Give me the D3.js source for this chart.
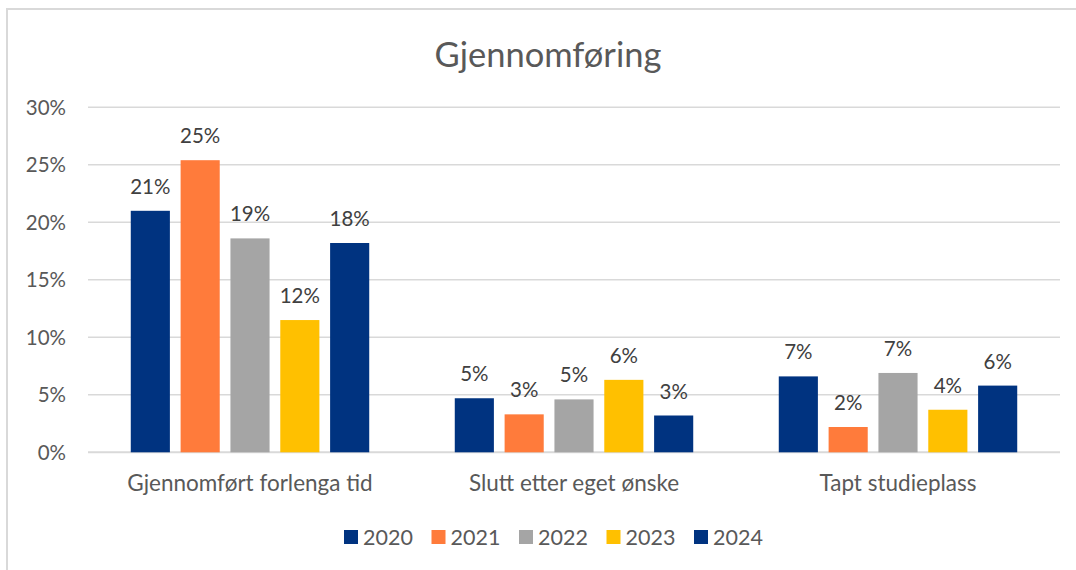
<!DOCTYPE html>
<html>
<head>
<meta charset="utf-8">
<script src="https://cdn.jsdelivr.net/npm/d3@7"></script>
<style>
  body { margin: 0; background: #fff; }
  svg text { font-family: Lato, "Open Sans", sans-serif; }
</style>
</head>
<body>
<svg id="chart" width="1076" height="570"></svg>
<script>
// data
var categories = ["Gjennomført forlenga tid", "Slutt etter eget ønske", "Tapt studieplass"];
var years = ["2020", "2021", "2022", "2023", "2024"];
var v2020 = [0.210, 0.047, 0.066];
var v2021 = [0.254, 0.033, 0.022];
var v2022 = [0.186, 0.046, 0.069];
var v2023 = [0.115, 0.063, 0.037];
var v2024 = [0.182, 0.032, 0.058];
var yTicks = [0, 0.05, 0.10, 0.15, 0.20, 0.25, 0.30];
var colors = ["#003380", "#FF7B3B", "#A5A5A5", "#FFC000", "#003380"];

var series = [v2020, v2021, v2022, v2023, v2024];

var svg = d3.select("#chart");

// ramme
svg.append("rect")
    .attr("x", 7).attr("y", 9)
    .attr("width", 1100).attr("height", 600)
    .attr("fill", "none")
    .attr("stroke", "#d9d9d9")
    .attr("stroke-width", 2);

// tittel
svg.append("text")
    .attr("x", 548).attr("y", 67)
    .attr("text-anchor", "middle")
    .attr("fill", "#595959")
    .style("font-size", "34.5px")
    .text("Gjennomføring");

// skalaer
var y = d3.scaleLinear().domain([0, 0.30]).range([452.3, 107.3]);
var x0 = d3.scaleBand().domain(categories).range([88, 1060]).padding(0);
var gap = x0.bandwidth() * 0.132;
var x1 = d3.scaleBand().domain(years).range([gap, x0.bandwidth() - gap])
    .paddingInner(0.215).paddingOuter(0);

// rutenett
svg.append("g")
    .selectAll("line")
    .data(yTicks)
    .enter().append("line")
    .attr("x1", 88).attr("x2", 1060)
    .attr("y1", function(d) { return y(d); })
    .attr("y2", function(d) { return y(d); })
    .attr("stroke", "#d9d9d9")
    .attr("stroke-width", function(d) { return d === 0 ? 2 : 1.5; });

// y-akse
var yAxis = svg.append("g")
    .attr("transform", "translate(66,0)")
    .call(d3.axisLeft(y).tickValues(yTicks).tickSize(0).tickPadding(0)
        .tickFormat(function(d) { return Math.round(d * 100) + "%"; }));
yAxis.select(".domain").remove();
yAxis.selectAll("text")
    .attr("fill", "#595959")
    .attr("dy", "0.35em")
    .style("font-size", "20.5px");

// x-akse
var xAxis = svg.append("g")
    .attr("transform", "translate(0,452)")
    .call(d3.axisBottom(x0).tickSize(0).tickPadding(0));
xAxis.select(".domain").remove();
xAxis.selectAll("text")
    .attr("fill", "#595959")
    .attr("y", 39)
    .attr("dy", 0)
    .style("font-size", "22.5px");

// søyler
var groups = svg.append("g")
    .selectAll("g")
    .data(categories)
    .enter().append("g")
    .attr("transform", function(d) { return "translate(" + x0(d) + ",0)"; });

var cells = groups.selectAll("g")
    .data(function(c, ci) {
        return years.map(function(yr, si) { return { year: yr, si: si, value: series[si][ci] }; });
    })
    .enter().append("g");

cells.append("rect")
    .attr("x", function(d) { return x1(d.year); })
    .attr("width", x1.bandwidth())
    .attr("y", function(d) { return y(d.value); })
    .attr("height", function(d) { return y(0) - y(d.value); })
    .attr("fill", function(d) { return colors[d.si]; });

cells.append("text")
    .attr("x", function(d) { return x1(d.year) + x1.bandwidth() / 2; })
    .attr("y", function(d) { return y(d.value) - 17; })
    .attr("text-anchor", "middle")
    .attr("fill", "#404040")
    .style("font-size", "20.5px")
    .text(function(d) { return Math.round(d.value * 100) + "%"; });

// legende
var legend = svg.append("g")
    .selectAll("g")
    .data(years)
    .enter().append("g")
    .attr("transform", function(d, i) { return "translate(" + (344 + i * 87.5) + ",530)"; });
legend.append("rect")
    .attr("width", 14).attr("height", 14)
    .attr("fill", function(d, i) { return colors[i]; });
legend.append("text")
    .attr("x", 19).attr("y", 14.5)
    .attr("fill", "#595959")
    .style("font-size", "21.5px")
    .text(function(d) { return d; });
</script>
</body>
</html>
